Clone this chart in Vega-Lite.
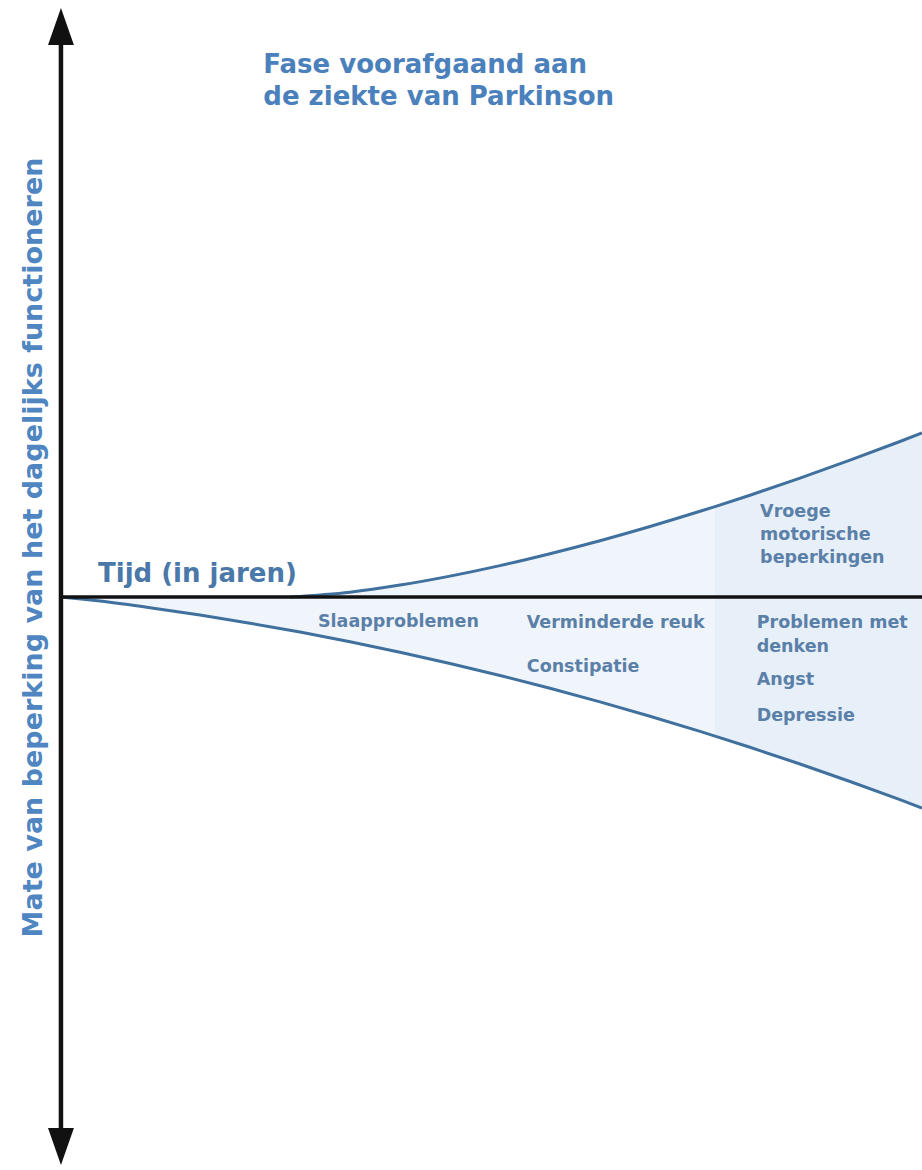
{
  "$schema": "https://vega.github.io/schema/vega-lite/v6.json",
  "width": 922,
  "height": 1170,
  "autosize": {"type": "none"},
  "padding": 0,
  "background": "white",
  "config": {"view": {"stroke": null}, "axis": {"disable": true}},
  "datasets": {
    "curves": [
      {"t": 2.660, "v": 0, "curve": "boven"},
      {"t": 3.357, "v": 0.48, "curve": "boven"},
      {"t": 3.937, "v": 1.19, "curve": "boven"},
      {"t": 4.518, "v": 2.09, "curve": "boven"},
      {"t": 5.099, "v": 3.14, "curve": "boven"},
      {"t": 5.679, "v": 4.33, "curve": "boven"},
      {"t": 6.260, "v": 5.63, "curve": "boven"},
      {"t": 6.841, "v": 7.05, "curve": "boven"},
      {"t": 7.422, "v": 8.57, "curve": "boven"},
      {"t": 7.596, "v": 9.04, "curve": "boven"},
      {"t": 8.002, "v": 10.18, "curve": "boven"},
      {"t": 8.583, "v": 11.89, "curve": "boven"},
      {"t": 9.164, "v": 13.68, "curve": "boven"},
      {"t": 9.744, "v": 15.55, "curve": "boven"},
      {"t": 10.0, "v": 16.4, "curve": "boven"},
      {"t": 0, "v": 0, "curve": "onder"},
      {"t": 0.453, "v": -0.41, "curve": "onder"},
      {"t": 1.034, "v": -1.07, "curve": "onder"},
      {"t": 1.614, "v": -1.81, "curve": "onder"},
      {"t": 2.195, "v": -2.62, "curve": "onder"},
      {"t": 2.776, "v": -3.51, "curve": "onder"},
      {"t": 3.357, "v": -4.48, "curve": "onder"},
      {"t": 3.937, "v": -5.52, "curve": "onder"},
      {"t": 4.518, "v": -6.65, "curve": "onder"},
      {"t": 5.099, "v": -7.85, "curve": "onder"},
      {"t": 5.679, "v": -9.13, "curve": "onder"},
      {"t": 6.260, "v": -10.49, "curve": "onder"},
      {"t": 6.841, "v": -11.92, "curve": "onder"},
      {"t": 7.422, "v": -13.44, "curve": "onder"},
      {"t": 7.596, "v": -13.91, "curve": "onder"},
      {"t": 8.002, "v": -15.03, "curve": "onder"},
      {"t": 8.583, "v": -16.70, "curve": "onder"},
      {"t": 9.164, "v": -18.45, "curve": "onder"},
      {"t": 9.744, "v": -20.27, "curve": "onder"},
      {"t": 10.0, "v": -21.10, "curve": "onder"}
    ],
    "title": [
      {"text": "Fase voorafgaand aan", "t": 2.35, "v": 52.4},
      {"text": "de ziekte van Parkinson", "t": 2.35, "v": 49.2}
    ],
    "symptoms": [
      {"text": "Slaapproblemen", "t": 2.985, "v": -3.0},
      {"text": "Verminderde reuk", "t": 5.41, "v": -3.1},
      {"text": "Constipatie", "t": 5.41, "v": -7.5},
      {"text": "Problemen met", "t": 8.08, "v": -3.1},
      {"text": "denken", "t": 8.08, "v": -5.5},
      {"text": "Angst", "t": 8.08, "v": -8.8},
      {"text": "Depressie", "t": 8.08, "v": -12.4},
      {"text": "Vroege", "t": 8.12, "v": 8.0},
      {"text": "motorische", "t": 8.12, "v": 5.7},
      {"text": "beperkingen", "t": 8.12, "v": 3.4}
    ],
    "axislabels": [
      {"text": "Tijd (in jaren)", "t": 0.43, "v": 1.5}
    ],
    "ylabel": [
      {"text": "Mate van beperking van het dagelijks functioneren", "t": -0.22, "v": 4.95}
    ],
    "arrow": [
      {"t": 0, "top": 56.5, "bottom": -54.5, "tipTop": 57.05, "tipBottom": -54.95, "tEnd": 10}
    ]
  },
  "layer": [
    {
      "data": {"name": "curves"},
      "mark": {"type": "area", "color": "#f0f5fb", "interpolate": "monotone"},
      "encoding": {
        "x": {"field": "t", "type": "quantitative", "scale": {"domain": [-0.708, 10], "nice": false, "zero": false}},
        "y": {"field": "v", "type": "quantitative", "scale": {"domain": [-57.3, 59.7], "nice": false, "zero": false}},
        "y2": {"datum": 0},
        "detail": {"field": "curve"}
      }
    },
    {
      "data": {"name": "curves"},
      "transform": [{"filter": "datum.t >= 7.59"}],
      "mark": {"type": "area", "color": "#e7eff8", "interpolate": "monotone"},
      "encoding": {
        "x": {"field": "t", "type": "quantitative"},
        "y": {"field": "v", "type": "quantitative"},
        "y2": {"datum": 0},
        "detail": {"field": "curve"}
      }
    },
    {
      "data": {"name": "curves"},
      "mark": {"type": "line", "color": "#40709e", "strokeWidth": 3, "interpolate": "monotone"},
      "encoding": {
        "x": {"field": "t", "type": "quantitative"},
        "y": {"field": "v", "type": "quantitative"},
        "detail": {"field": "curve"}
      }
    },
    {
      "data": {"name": "arrow"},
      "mark": {"type": "rule", "color": "#111111", "strokeWidth": 3.5},
      "encoding": {
        "x": {"field": "t", "type": "quantitative"},
        "x2": {"field": "tEnd"},
        "y": {"datum": 0}
      }
    },
    {
      "data": {"name": "arrow"},
      "mark": {"type": "rule", "color": "#111111", "strokeWidth": 4.5},
      "encoding": {
        "x": {"field": "t", "type": "quantitative"},
        "y": {"field": "top", "type": "quantitative"},
        "y2": {"field": "bottom"}
      }
    },
    {
      "data": {"name": "arrow"},
      "mark": {"type": "point", "filled": true, "color": "#111111", "opacity": 1, "size": 1369, "shape": "M0,-1L0.7,1L-0.7,1Z"},
      "encoding": {
        "x": {"field": "t", "type": "quantitative"},
        "y": {"field": "tipTop", "type": "quantitative"}
      }
    },
    {
      "data": {"name": "arrow"},
      "mark": {"type": "point", "filled": true, "color": "#111111", "opacity": 1, "size": 1369, "shape": "M0,1L0.7,-1L-0.7,-1Z"},
      "encoding": {
        "x": {"field": "t", "type": "quantitative"},
        "y": {"field": "tipBottom", "type": "quantitative"}
      }
    },
    {
      "data": {"name": "title"},
      "mark": {"type": "text", "align": "left", "baseline": "alphabetic", "font": "DejaVu Sans", "fontWeight": "bold", "fontSize": 26, "color": "#4a80bb"},
      "encoding": {
        "x": {"field": "t", "type": "quantitative"},
        "y": {"field": "v", "type": "quantitative"},
        "text": {"field": "text"}
      }
    },
    {
      "data": {"name": "axislabels"},
      "mark": {"type": "text", "align": "left", "baseline": "alphabetic", "font": "DejaVu Sans", "fontWeight": "bold", "fontSize": 26, "color": "#4a78a8"},
      "encoding": {
        "x": {"field": "t", "type": "quantitative"},
        "y": {"field": "v", "type": "quantitative"},
        "text": {"field": "text"}
      }
    },
    {
      "data": {"name": "ylabel"},
      "mark": {"type": "text", "align": "center", "baseline": "alphabetic", "angle": 270, "font": "DejaVu Sans", "fontWeight": "bold", "fontSize": 27, "color": "#4f85c0"},
      "encoding": {
        "x": {"field": "t", "type": "quantitative"},
        "y": {"field": "v", "type": "quantitative"},
        "text": {"field": "text"}
      }
    },
    {
      "data": {"name": "symptoms"},
      "mark": {"type": "text", "align": "left", "baseline": "alphabetic", "font": "DejaVu Sans", "fontWeight": "bold", "fontSize": 17.5, "color": "#5b80a8"},
      "encoding": {
        "x": {"field": "t", "type": "quantitative"},
        "y": {"field": "v", "type": "quantitative"},
        "text": {"field": "text"}
      }
    }
  ]
}
